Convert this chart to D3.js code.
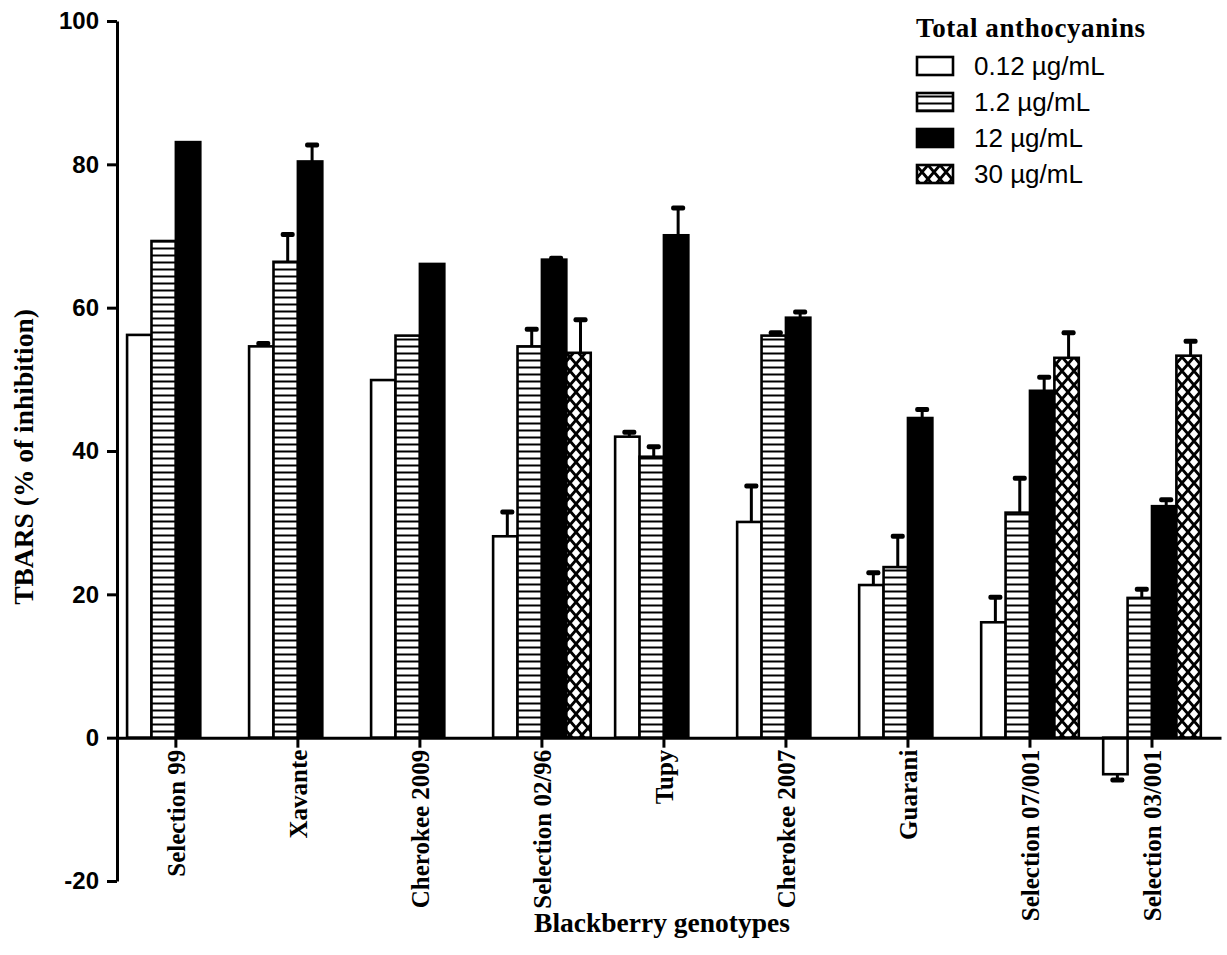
<!DOCTYPE html>
<html>
<head>
<meta charset="utf-8">
<script src="https://cdn.jsdelivr.net/npm/d3@7"></script>
<style>
  body { margin: 0; background: #fff; }
  svg { display: block; }
</style>
</head>
<body>
<svg width="1227" height="955"></svg>
<script>

var categories = ["Selection 99", "Xavante", "Cherokee 2009", "Selection 02/96", "Tupy",
    "Cherokee 2007", "Guarani", "Selection 07/001", "Selection 03/001"];

var seriesNames = ["0.12 µg/mL", "1.2 µg/mL", "12 µg/mL", "30 µg/mL"];

// mean values, one array per concentration (null = not measured)
var conc012 = [56.2, 54.6, 49.9, 28.1, 42.0, 30.1, 21.3, 16.1, -5.1];
var conc12  = [69.3, 66.4, 56.1, 54.6, 39.2, 56.1, 23.8, 31.4, 19.5];
var conc120 = [83.1, 80.4, 66.1, 66.7, 70.1, 58.6, 44.6, 48.4, 32.3];
var conc300 = [null, null, null, 53.7, null, null, null, 53.0, 53.3];

// error bars (SD)
var err012 = [0, 0.4, 0, 3.4, 0.6, 5.0, 1.7, 3.5, 0.8];
var err12  = [0, 3.8, 0, 2.4, 1.4, 0.4, 4.3, 4.8, 1.2];
var err120 = [0, 2.3, 0, 0.2, 3.8, 0.8, 1.2, 1.9, 0.9];
var err300 = [null, null, null, 4.6, null, null, null, 3.5, 2.0];

var yTicks = [-20, 0, 20, 40, 60, 80, 100];

var values = [conc012, conc12, conc120, conc300];
var errors = [err012, err12, err120, err300];

var svg = d3.select("svg");

// 무늬
var defs = svg.append("defs");

var hLines = defs.append("pattern")
    .attr("id", "hlines")
    .attr("patternUnits", "userSpaceOnUse")
    .attr("width", 10).attr("height", 7);
hLines.append("rect").attr("width", 10).attr("height", 7).attr("fill", "#fff");
hLines.append("line")
    .attr("x1", 0).attr("x2", 10).attr("y1", 3.5).attr("y2", 3.5)
    .attr("stroke", "#000").attr("stroke-width", 2);

var cross = defs.append("pattern")
    .attr("id", "cross")
    .attr("patternUnits", "userSpaceOnUse")
    .attr("width", 12).attr("height", 14);
cross.append("rect").attr("width", 12).attr("height", 14).attr("fill", "#fff");
cross.append("path")
    .attr("d", "M-1,-1.2L13,15.2M13,-1.2L-1,15.2")
    .attr("stroke", "#000").attr("stroke-width", 2.8);

var fills = ["#fff", "url(#hlines)", "#000", "url(#cross)"];

var x0 = d3.scaleBand()
    .domain(categories)
    .range([118, 1221])
    .paddingInner(0.2)
    .paddingOuter(0.12)
    .align(0.31);

var x1 = d3.scaleBand()
    .domain(d3.range(seriesNames.length))
    .range([0, x0.bandwidth()]);

var y = d3.scaleLinear()
    .domain([-20, 100])
    .range([881, 21]);

// 막대 데이터
var bars = [];
categories.forEach(function(c, i) {
    values.forEach(function(arr, s) {
        if (arr[i] === null) return;
        bars.push({cat: c, s: s, v: arr[i], e: errors[s][i]});
    });
});

var g = svg.append("g");

// error bars (behind bars)
var eb = g.selectAll(".err")
    .data(bars.filter(function(d) { return d.e > 0; }))
    .enter().append("g")
    .attr("class", "err");

eb.append("line")
    .attr("x1", function(d) { return x0(d.cat) + x1(d.s) + x1.bandwidth() / 2 + 2; })
    .attr("x2", function(d) { return x0(d.cat) + x1(d.s) + x1.bandwidth() / 2 + 2; })
    .attr("y1", function(d) { return y(d.v); })
    .attr("y2", function(d) { return y(d.v < 0 ? d.v - d.e : d.v + d.e); })
    .attr("stroke", "#000")
    .attr("stroke-width", 3);

eb.append("rect")
    .attr("x", function(d) { return x0(d.cat) + x1(d.s) + x1.bandwidth() / 2 + 2 - 7; })
    .attr("y", function(d) { return y(d.v < 0 ? d.v - d.e : d.v + d.e) - 2.5; })
    .attr("width", 14)
    .attr("height", 5)
    .attr("rx", 2)
    .attr("fill", "#000");

g.selectAll(".bar")
    .data(bars)
    .enter().append("rect")
    .attr("class", "bar")
    .attr("x", function(d) { return x0(d.cat) + x1(d.s); })
    .attr("y", function(d) { return y(Math.max(0, d.v)); })
    .attr("width", x1.bandwidth())
    .attr("height", function(d) { return Math.abs(y(d.v) - y(0)); })
    .attr("fill", function(d) { return fills[d.s]; })
    .attr("stroke", "#000")
    .attr("stroke-width", 2.6);

// 축
var yAxis = svg.append("g")
    .attr("transform", "translate(117,0)")
    .call(d3.axisLeft(y)
        .tickValues(yTicks)
        .tickFormat(function(d) { return String(d); })
        .tickSize(10).tickSizeOuter(0).tickPadding(8));

yAxis.selectAll("path, line").attr("stroke", "#000").attr("stroke-width", 3);
yAxis.selectAll("text")
    .attr("fill", "#000")
    .style("font", "bold 24px 'Liberation Sans', Arial, sans-serif");

var xAxis = svg.append("g")
    .attr("transform", "translate(0," + y(0) + ")")
    .call(d3.axisBottom(x0).tickSize(10).tickSizeOuter(0));

xAxis.selectAll("path, line").attr("stroke", "#000").attr("stroke-width", 3);
xAxis.selectAll("text")
    .attr("transform", "rotate(-90)")
    .attr("x", -12)
    .attr("y", 0)
    .attr("dy", "0.35em")
    .attr("text-anchor", "end")
    .attr("fill", "#000")
    .style("font", "bold 25px 'Liberation Serif', 'Times New Roman', serif");

// 축 제목
svg.append("text")
    .attr("transform", "translate(33,457) rotate(-90)")
    .attr("text-anchor", "middle")
    .style("font", "bold 27.5px 'Liberation Serif', 'Times New Roman', serif")
    .text("TBARS (% of inhibition)");

svg.append("text")
    .attr("x", 662)
    .attr("y", 932)
    .attr("text-anchor", "middle")
    .style("font", "bold 27.5px 'Liberation Serif', 'Times New Roman', serif")
    .text("Blackberry genotypes");

// 범례
var legend = svg.append("g").attr("transform", "translate(916,0)");

legend.append("text")
    .attr("x", 0)
    .attr("y", 37)
    .style("font", "bold 27px 'Liberation Serif', 'Times New Roman', serif")
    .style("letter-spacing", "0.6px")
    .text("Total anthocyanins");

var item = legend.selectAll(".item")
    .data(seriesNames)
    .enter().append("g")
    .attr("class", "item")
    .attr("transform", function(d, i) { return "translate(0," + (57 + i * 36) + ")"; });

item.append("rect")
    .attr("x", 1)
    .attr("width", 36)
    .attr("height", 18)
    .attr("fill", function(d, i) { return fills[i]; })
    .attr("stroke", "#000")
    .attr("stroke-width", 2.6);

item.append("text")
    .attr("x", 58)
    .attr("y", 9)
    .attr("dy", "0.36em")
    .style("font", "26px 'Liberation Sans', Arial, sans-serif")
    .text(function(d) { return d; });

</script>
</body>
</html>
